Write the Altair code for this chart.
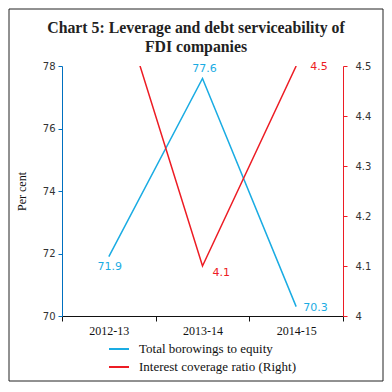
import altair as alt
import pandas as pd

years = ["2012-13", "2013-14", "2014-15"]
borrowings = [71.9, 77.6, 70.3]
icr = [4.7, 4.1, 4.5]
series_names = ["Total borowings to equity", "Interest coverage ratio (Right)"]
colors = ["#1AACE3", "#ED1C24"]
title_text = "Chart 5: Leverage and debt serviceability of\nFDI companies"

df = pd.DataFrame({"year": years, "borrow": borrowings, "icr": icr})

color_scale = alt.Scale(domain=series_names, range=colors)
x_enc = alt.X("year:N", sort=years, title=None,
              scale=alt.Scale(paddingInner=0, paddingOuter=0),
              axis=alt.Axis(labelAngle=0, tickBand="extent", labelFont="Liberation Serif",
                            labelFontSize=12, labelColor="#111", domainColor="#111",
                            tickColor="#111", tickSize=5, labelPadding=4))

base = alt.Chart(df)

yl = alt.Y("borrow:Q", scale=alt.Scale(domain=[70, 78], nice=False, zero=False),
           axis=alt.Axis(values=[70, 72, 74, 76, 78], title="Per cent", orient="left",
                         domainColor="#0070C0", tickColor="#0070C0", tickSize=4,
                         labelFont="DejaVu Sans", labelFontSize=10, labelColor="#333",
                         labelPadding=3, titleFont="Liberation Serif", titleFontSize=12,
                         titleFontWeight="normal", titleColor="#111", titlePadding=14, grid=False))
yr = alt.Y("icr:Q", scale=alt.Scale(domain=[4, 4.5], nice=False, zero=False),
           axis=alt.Axis(values=[4, 4.1, 4.2, 4.3, 4.4, 4.5], format=".1~f", title=None,
                         orient="right", domainColor="#ED1C24", tickColor="#ED1C24", tickSize=4,
                         labelFont="DejaVu Sans", labelFontSize=10, labelColor="#333",
                         labelPadding=8, grid=False))

legend = alt.Legend(title=None, orient="none", legendX=46, legendY=272,
                    symbolType="stroke", symbolSize=400, symbolStrokeWidth=2,
                    labelFont="Liberation Serif", labelFontSize=13, labelColor="#111",
                    rowPadding=0, labelOffset=9, padding=0)

blue_line = base.mark_line(strokeWidth=1.5).transform_calculate(
    series=f"'{series_names[0]}'").encode(
    x=x_enc, y=yl, color=alt.Color("series:N", scale=color_scale, legend=legend))

def blabel(y, dx, dy, align):
    return base.mark_text(font="DejaVu Sans", fontSize=11, color=colors[0], dx=dx, dy=dy,
                          align=align, baseline="middle").encode(
        x=alt.X("year:N", sort=years), y=alt.Y("borrow:Q"), text=alt.Text("borrow:Q", format=".1f")
    ).transform_filter(alt.datum.year == y)

blue = alt.layer(blue_line,
                 blabel("2012-13", 1, 10, "center"),
                 blabel("2013-14", 2, -10, "center"),
                 blabel("2014-15", 7, 1, "left"))

red_line = base.mark_line(strokeWidth=1.5, clip=True).transform_calculate(
    series=f"'{series_names[1]}'").encode(
    x=alt.X("year:N", sort=years), y=yr,
    color=alt.Color("series:N", scale=color_scale, legend=legend))

def rlabel(y, dx, dy):
    return base.mark_text(font="DejaVu Sans", fontSize=11, color=colors[1], dx=dx, dy=dy,
                          align="left", baseline="middle").encode(
        x=alt.X("year:N", sort=years), y=alt.Y("icr:Q"), text=alt.Text("icr:Q", format=".1f")
    ).transform_filter(alt.datum.year == y)

red = alt.layer(red_line, rlabel("2013-14", 10, 7), rlabel("2014-15", 14, 1))

one = alt.Chart(pd.DataFrame({"a": [0]}))
frame = one.mark_rect(filled=False, stroke="#222", strokeWidth=1, clip=False).encode(
    x=alt.value(-53), x2=alt.value(321), y=alt.value(-57), y2=alt.value(315))
title = one.mark_text(font="Liberation Serif", fontSize=15.8, fontWeight="bold", color="#222",
                      align="center", baseline="alphabetic", lineBreak="\n", lineHeight=19).encode(
    x=alt.value(134), y=alt.value(-33), text=alt.value(title_text))

chart = alt.layer(blue, red, frame, title).resolve_scale(y="independent").properties(
    width=281, height=250,
    background="white",
    autosize=alt.AutoSizeParams(type="none"),
    padding={"left": 54, "top": 58, "right": 41, "bottom": 68},
).configure_view(stroke=None)

chart.save("out.html", embed_options={"renderer": "svg", "actions": False})
